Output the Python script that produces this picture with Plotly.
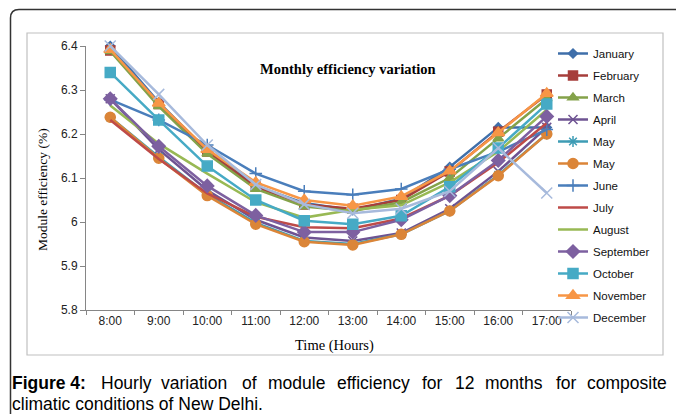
import plotly.graph_objects as go

hours = ["8:00", "9:00", "10:00", "11:00", "12:00", "13:00", "14:00", "15:00", "16:00", "17:00"]

january = [6.400, 6.272, 6.162, 6.082, 6.043, 6.027, 6.053, 6.125, 6.215, 6.215]
february = [6.390, 6.268, 6.160, 6.080, 6.040, 6.030, 6.050, 6.115, 6.205, 6.290]
march = [6.388, 6.263, 6.155, 6.075, 6.035, 6.025, 6.045, 6.100, 6.190, 6.280]
april = [6.280, 6.165, 6.072, 6.005, 5.965, 5.957, 5.975, 6.030, 6.115, 6.215]
may_a = [6.238, 6.148, 6.063, 5.998, 5.957, 5.950, 5.972, 6.025, 6.107, 6.200]
may_b = [6.238, 6.145, 6.060, 5.995, 5.955, 5.948, 5.972, 6.025, 6.105, 6.200]
june = [6.278, 6.232, 6.175, 6.110, 6.070, 6.062, 6.075, 6.120, 6.160, 6.210]
july = [6.232, 6.143, 6.065, 6.012, 5.988, 5.986, 6.008, 6.060, 6.135, 6.225]
august = [6.265, 6.178, 6.110, 6.045, 6.010, 6.028, 6.038, 6.090, 6.160, 6.255]
september = [6.280, 6.172, 6.082, 6.015, 5.977, 5.977, 6.005, 6.060, 6.140, 6.240]
october = [6.340, 6.232, 6.127, 6.050, 6.003, 5.995, 6.014, 6.080, 6.168, 6.268]
november = [6.392, 6.270, 6.165, 6.090, 6.050, 6.037, 6.058, 6.116, 6.203, 6.292]
december = [6.400, 6.290, 6.175, 6.085, 6.040, 6.020, 6.030, 6.070, 6.168, 6.066]

series_names = ["January", "February", "March", "April", "May", "May", "June", "July",
                "August", "September", "October", "November", "December"]
series_values = [january, february, march, april, may_a, may_b, june, july,
                 august, september, october, november, december]

styles = [
    dict(color="#3F6FAA", symbol="diamond", size=7),
    dict(color="#A63E3B", symbol="square", size=9),
    dict(color="#84A24A", symbol="triangle-up", size=9),
    dict(color="#6E5392", symbol="x-thin-open", size=9),
    dict(color="#3E9CB5", symbol="asterisk-open", size=9),
    dict(color="#DB8538", symbol="circle", size=10),
    dict(color="#4A7EBB", symbol="cross-thin-open", size=9),
    dict(color="#BE4B48", symbol=None, size=0),
    dict(color="#98B954", symbol=None, size=0),
    dict(color="#7D60A0", symbol="diamond", size=10),
    dict(color="#46AAC5", symbol="square", size=10),
    dict(color="#F79646", symbol="triangle-up", size=11),
    dict(color="#A7BADC", symbol="x-thin-open", size=11),
]

fig = go.Figure()
for i, (name, vals, st) in enumerate(zip(series_names, series_values, styles)):
    if st["symbol"] is None:
        mode = "lines"
        marker = None
    else:
        mode = "lines+markers"
        marker = dict(symbol=st["symbol"], size=st["size"], color=st["color"],
                      line=dict(color=st["color"], width=1.5))
    fig.add_trace(go.Scatter(
        x=hours, y=vals, name=name, mode=mode, marker=marker,
        line=dict(color=st["color"], width=2.5),
        legendgroup="g%d" % i, cliponaxis=False,
    ))

# plot area in pixels
L, R, T, B = 86, 571, 46, 310
W, H = 676, 414


def px(x):
    return (x - L) / (R - L)


def py(y):
    return (B - y) / (B - T)


serif = "Liberation Serif, Times New Roman, serif"
sans = "Liberation Sans, Arial, sans-serif"

shapes = [
    dict(type="rect", xref="paper", yref="paper", x0=px(27), x1=px(663), y0=py(355), y1=py(33),
         line=dict(color="#C0C0C0", width=1.2), layer="below"),
    dict(type="path", xref="paper", yref="paper",
         path="M %f %f L %f %f Q %f %f %f %f L %f %f" % (
             px(10.5), py(420), px(10.5), py(18), px(10.5), py(9.5), px(19), py(9.5), px(690), py(9.5)),
         line=dict(color="#333333", width=1.5)),
]

annotations = [
    dict(text="<b>Monthly efficiency variation</b>", xref="paper", yref="paper",
         x=px(348), y=py(69), showarrow=False, font=dict(family=serif, size=14.5, color="black"),
         xanchor="center", yanchor="middle"),
    dict(text="Module efficiency (%)", xref="paper", yref="paper", x=px(42), y=py(190),
         showarrow=False, textangle=-90, font=dict(family=serif, size=13.5, color="black"),
         xanchor="center", yanchor="middle"),
    dict(text="Time (Hours)", xref="paper", yref="paper", x=px(334), y=py(345),
         showarrow=False, font=dict(family=serif, size=14.5, color="black"),
         xanchor="center", yanchor="middle"),
]

# justified first caption line: words placed left to right
caption_words = ["<b>Figure 4:</b>", "Hourly", "variation", "of", "module", "efficiency",
                 "for", "12", "months", "for", "composite"]
caption_x = [10, 98.5, 159, 239.5, 266, 334.5, 420, 452.5, 483, 553.5, 585]
for w, xx in zip(caption_words, caption_x):
    annotations.append(dict(text=w, xref="paper", yref="paper", x=px(xx), y=py(383),
                            showarrow=False, xanchor="left", yanchor="middle",
                            font=dict(family=sans, size=17.5, color="black")))
annotations.append(dict(text="climatic conditions of New Delhi.", xref="paper", yref="paper",
                        x=px(10), y=py(404), showarrow=False, xanchor="left", yanchor="middle",
                        font=dict(family=sans, size=17.5, color="black")))

fig.update_layout(
    width=W, height=H,
    margin=dict(l=L, r=W - R, t=T, b=H - B, pad=0),
    paper_bgcolor="white", plot_bgcolor="white",
    showlegend=True,
    legend=dict(x=px(553), y=py(39), xanchor="left", yanchor="top",
                font=dict(family=sans, size=11.5, color="#111111"),
                tracegroupgap=3, bgcolor="rgba(0,0,0,0)", itemwidth=30, maxheight=340),
    xaxis=dict(type="category", tickson="boundaries", ticks="outside", ticklen=4,
               tickcolor="#868686", showline=True, linecolor="#868686", linewidth=1,
               showgrid=False, tickfont=dict(family=sans, size=12, color="#222222"),
               range=[-0.5, 9.5], fixedrange=True),
    yaxis=dict(range=[5.8, 6.4], dtick=0.1, ticks="outside", ticklen=5,
               tickcolor="#868686", showline=True, linecolor="#868686", linewidth=1,
               showgrid=False, zeroline=False, tickformat="~g",
               tickfont=dict(family=sans, size=12, color="#222222")),
    shapes=shapes, annotations=annotations,
)

fig.write_html("out.html")
